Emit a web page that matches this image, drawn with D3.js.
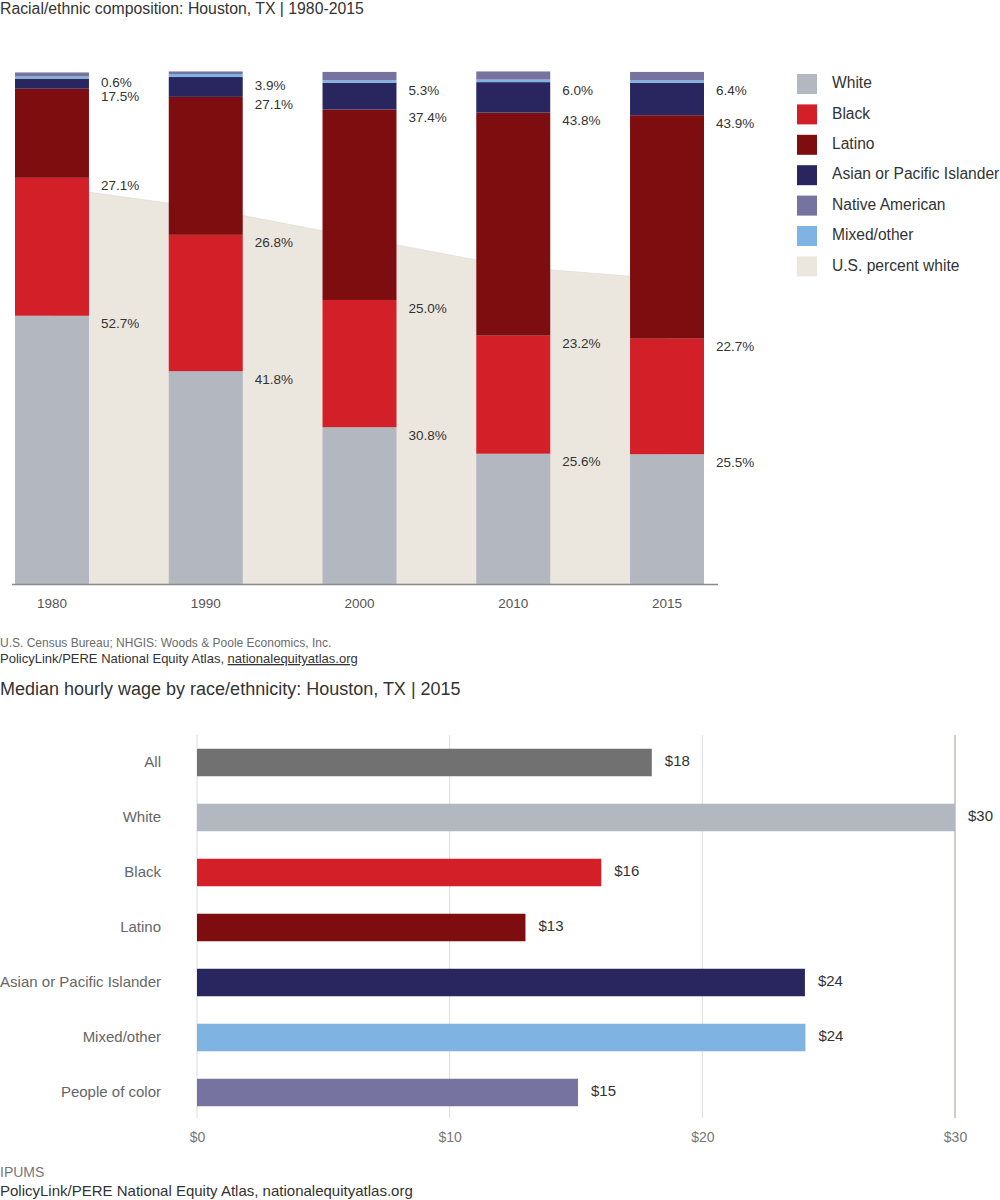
<!DOCTYPE html>
<html><head><meta charset="utf-8">
<script src="https://cdn.jsdelivr.net/npm/d3@7"></script>
<style>
body{margin:0;background:#fff;}
svg{display:block;font-family:"Liberation Sans",Arial,Helvetica,sans-serif;}
</style></head>
<body>
<svg id="c" width="1000" height="1200"></svg>
<script>
// ---------- Data: racial/ethnic composition ----------
const years = ["1980","1990","2000","2010","2015"];
const seriesNames = ["White","Black","Latino","Asian or Pacific Islander","Mixed/other","Native American"];
const whiteShare  = [52.7, 41.8, 30.8, 25.6, 25.5];
const blackShare  = [27.1, 26.8, 25.0, 23.2, 22.7];
const latinoShare = [17.5, 27.1, 37.4, 43.8, 43.9];
const asianShare  = [2.0, 3.9, 5.3, 6.0, 6.4];
const mixedShare  = [0.4, 0.6, 0.5, 0.5, 0.5];
const nativeShare = [0.8, 0.5, 1.6, 1.6, 1.6];
const asianLabels = [0.6, 3.9, 5.3, 6.0, 6.4];
const usWhite     = [78.0, 73.8, 68.0, 62.3, 59.9];
const legendNames = ["White","Black","Latino","Asian or Pacific Islander","Native American","Mixed/other","U.S. percent white"];

// ---------- Data: median hourly wage ----------
const wageCats = ["All","White","Black","Latino","Asian or Pacific Islander","Mixed/other","People of color"];
const wageVals = [18.0, 30.0, 16.0, 13.0, 24.06, 24.08, 15.08];
const wageTicks = [0, 10, 20, 30];

const colors = {
  "White":"#b3b7c0","Black":"#d21f28","Latino":"#7d0d0e",
  "Asian or Pacific Islander":"#29265f","Native American":"#7773a1",
  "Mixed/other":"#7fb3e2","U.S. percent white":"#ebe7df"
};
const wageColors = ["#717171","#b3b7c0","#d21f28","#7d0d0e","#29265f","#7fb3e2","#7773a1"];

const svg = d3.select("#c");

// ---------- Top chart ----------
svg.append("text").attr("x",0).attr("y",10).attr("dominant-baseline","middle")
  .attr("font-size",15.8).attr("fill","#333")
  .text("Racial/ethnic composition: Houston, TX | 1980-2015");

const x = d3.scaleBand().domain(years).range([15,704]).paddingInner(0.519).paddingOuter(0);
const y = d3.scaleLinear().domain([0,100]).range([584,75]);

const rows = years.map((yr,i)=>({year:yr,
  "White":whiteShare[i],"Black":blackShare[i],"Latino":latinoShare[i],
  "Asian or Pacific Islander":asianShare[i],"Mixed/other":mixedShare[i],"Native American":nativeShare[i]}));

// US percent white area
const area = d3.area()
  .x((d,i)=>x(years[i])+x.bandwidth()/2)
  .y0(y(0)).y1(d=>y(d));
svg.append("path").datum(usWhite).attr("d",area).attr("fill",colors["U.S. percent white"])
  .attr("stroke","#dcd8d0").attr("stroke-width",0.6);

const stack = d3.stack().keys(seriesNames)(rows);
svg.append("g").selectAll("g").data(stack).join("g")
  .attr("fill",d=>colors[d.key])
  .selectAll("rect").data(d=>d).join("rect")
  .attr("x",d=>x(d.data.year)).attr("width",x.bandwidth())
  .attr("y",d=>y(d[1])).attr("height",d=>y(d[0])-y(d[1]));

// value labels
const lab = svg.append("g").attr("font-size",13.5).attr("fill","#333");
years.forEach((yr,i)=>{
  let cum = 0;
  const vals = [whiteShare[i],blackShare[i],latinoShare[i],asianShare[i]];
  const texts = [whiteShare[i],blackShare[i],latinoShare[i],asianLabels[i]];
  let prevY = null;
  vals.forEach((v,k)=>{
    cum += v;
    let ly = y(cum)+9;
    if(prevY!==null && ly > prevY-14) ly = prevY-14;
    prevY = ly;
    lab.append("text").attr("x",x(yr)+x.bandwidth()+12).attr("y",ly)
      .attr("dominant-baseline","middle").text(texts[k].toFixed(1)+"%");
  });
});

// axis
svg.append("line").attr("x1",12).attr("x2",718).attr("y1",584.5).attr("y2",584.5)
  .attr("stroke","#8a8a8a").attr("stroke-width",1.6);
const xAxis = svg.append("g").attr("transform","translate(0,584)")
  .call(d3.axisBottom(x).tickSize(0).tickPadding(14));
xAxis.select(".domain").remove();
xAxis.selectAll("text").attr("font-size",13.5).attr("fill","#555")
  .attr("font-family","'Liberation Sans',Arial,sans-serif");

// legend
const leg = svg.append("g");
legendNames.forEach((n,i)=>{
  const cy = 84 + i*30.4;
  leg.append("rect").attr("x",797).attr("y",cy-10).attr("width",20).attr("height",20).attr("fill",colors[n]);
  leg.append("text").attr("x",832).attr("y",cy).attr("dominant-baseline","middle")
    .attr("font-size",15.6).attr("fill","#333").text(n);
});

// source
svg.append("text").attr("x",0).attr("y",644).attr("dominant-baseline","middle")
  .attr("font-size",12).attr("fill","#6b6b6b")
  .text("U.S. Census Bureau; NHGIS: Woods & Poole Economics, Inc.");
const src2 = svg.append("text").attr("x",0).attr("y",660).attr("dominant-baseline","middle")
  .attr("font-size",13).attr("fill","#333");
src2.append("tspan").text("PolicyLink/PERE National Equity Atlas, ");
src2.append("tspan").attr("text-decoration","underline").text("nationalequityatlas.org");

// ---------- Bottom chart ----------
svg.append("text").attr("x",0).attr("y",690).attr("dominant-baseline","middle")
  .attr("font-size",18).attr("fill","#333")
  .text("Median hourly wage by race/ethnicity: Houston, TX | 2015");

const wx = d3.scaleLinear().domain([0,30]).range([197,955]);
const wy = d3.scaleBand().domain(wageCats).range([735,1120]).paddingInner(0.5).paddingOuter(0.25);

// gridlines
svg.append("g").selectAll("line").data(wageTicks).join("line")
  .attr("x1",d=>wx(d)).attr("x2",d=>wx(d)).attr("y1",735).attr("y2",1118)
  .attr("stroke",d=>d===30?"#cfcfca":"#dcdcdc").attr("stroke-width",d=>d===30?2:1);

svg.append("g").selectAll("rect").data(wageCats).join("rect")
  .attr("x",wx(0)).attr("y",d=>wy(d)).attr("height",wy.bandwidth())
  .attr("width",(d,i)=>wx(wageVals[i])-wx(0)).attr("fill",(d,i)=>wageColors[i]);

svg.append("g").selectAll("text").data(wageCats).join("text")
  .attr("x",(d,i)=>wx(wageVals[i])+13).attr("y",d=>wy(d)+wy.bandwidth()/2)
  .attr("dominant-baseline","middle").attr("font-size",15).attr("fill","#333")
  .text((d,i)=>"$"+Math.round(wageVals[i]));

const yAx = svg.append("g").attr("transform","translate(161,0)")
  .call(d3.axisLeft(wy).tickSize(0).tickPadding(0));
yAx.select(".domain").remove();
yAx.selectAll("text").attr("font-size",15).attr("fill","#666")
  .attr("font-family","'Liberation Sans',Arial,sans-serif");

const xAx2 = svg.append("g").attr("transform","translate(0,1118)")
  .call(d3.axisBottom(wx).tickValues(wageTicks).tickSize(0).tickPadding(14).tickFormat(d=>"$"+d));
xAx2.select(".domain").remove();
xAx2.selectAll("text").attr("font-size",14).attr("fill","#777")
  .attr("font-family","'Liberation Sans',Arial,sans-serif");

svg.append("text").attr("x",0).attr("y",1173).attr("dominant-baseline","middle")
  .attr("font-size",14).attr("fill","#777").text("IPUMS");
svg.append("text").attr("x",0).attr("y",1192).attr("dominant-baseline","middle")
  .attr("font-size",15).attr("fill","#333").text("PolicyLink/PERE National Equity Atlas, nationalequityatlas.org");
</script>
</body></html>
